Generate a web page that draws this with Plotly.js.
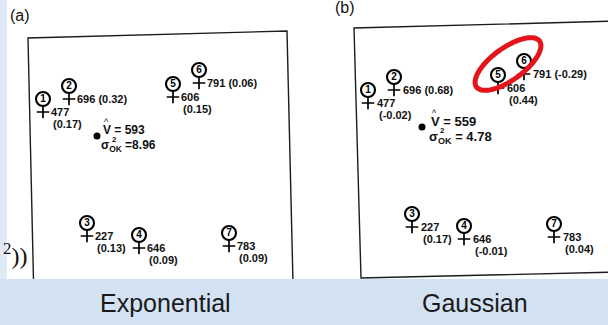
<!DOCTYPE html>
<html>
<head>
<meta charset="utf-8">
<script src="https://cdn.plot.ly/plotly-3.0.1.min.js"></script>
<style>
html,body{margin:0;padding:0;background:#fff;}
#chart{width:608px;height:325px;}
</style>
</head>
<body>
<div id="chart"></div>
<script>
// ---------------- DATA ----------------
const stationIds = [1, 2, 3, 4, 5, 6, 7];
const stationX = [13, 39, 57, 109, 143, 169, 199];
const stationY = [178, 191, 54, 42, 193, 207, 44];
const sampleValues = [477, 696, 227, 646, 606, 791, 783];
const weightsExponential = [0.17, 0.32, 0.13, 0.09, 0.15, 0.06, 0.09];
const weightsGaussian = [-0.02, 0.68, 0.17, -0.01, 0.44, -0.29, 0.04];
const estimateX = [67];
const estimateY = [154];
const modelNames = ["Exponential", "Gaussian"];
const panelLetters = ["(a)", "(b)"];
const estimatedValues = [593, 559];
const krigingVariances = ["8.96", "4.78"];

// ---------------- HELPERS ----------------
const W = 608, H = 325;
const PX = x => x / W;
const PY = y => 1 - y / H;
const FONT = "Liberation Sans, Arial, Helvetica, sans-serif";
const INK = "#111111";
const inlineWeight = new Set([2, 6]);

const panels = [
  {xa: "x", ya: "y", weights: weightsExponential, valDx: 6, estDx: 6, estSize: 12, eqSep: "="},
  {xa: "x2", ya: "y2", weights: weightsGaussian, valDx: 7, estDx: 9, estSize: 13, eqSep: "= "}
];

const traces = [];
const annotations = [];

panels.forEach((p, k) => {
  // sample locations
  traces.push({
    type: "scatter", mode: "markers", xaxis: p.xa, yaxis: p.ya,
    x: stationX, y: stationY, hoverinfo: "skip",
    marker: {symbol: "cross-thin-open", size: 9, color: "#000", line: {width: 1.7, color: "#000"}}
  });
  // circled station numbers
  traces.push({
    type: "scatter", mode: "markers+text", xaxis: p.xa, yaxis: p.ya,
    x: stationX, y: stationY.map(v => v + 13), hoverinfo: "skip",
    text: stationIds.map(String), textposition: "middle center",
    textfont: {family: FONT, size: 10, color: "#000", weight: "bold"},
    marker: {symbol: "circle-open", size: 14, color: "#000", line: {width: 2.1, color: "#000"}}
  });
  // estimation point
  traces.push({
    type: "scatter", mode: "markers", xaxis: p.xa, yaxis: p.ya,
    x: estimateX, y: estimateY, hoverinfo: "skip",
    marker: {symbol: "circle", size: 7, color: "#000"}
  });

  // value / weight labels
  stationIds.forEach((id, i) => {
    const w = "(" + p.weights[i].toFixed(2) + ")";
    const base = {xref: p.xa, yref: p.ya, x: stationX[i], y: stationY[i],
      xanchor: "left", yanchor: "middle", showarrow: false,
      font: {family: FONT, size: 11, color: INK, weight: "bold"}};
    if (inlineWeight.has(id)) {
      annotations.push(Object.assign({}, base, {text: sampleValues[i] + " " + w, xshift: p.valDx, yshift: 0}));
    } else {
      annotations.push(Object.assign({}, base, {text: String(sampleValues[i]), xshift: p.valDx, yshift: 0}));
      annotations.push(Object.assign({}, base, {text: w, xshift: p.valDx + 2, yshift: -12}));
    }
  });

  // estimate text
  const eb = {xref: p.xa, yref: p.ya, x: estimateX[0], y: estimateY[0], showarrow: false,
    xanchor: "left", yanchor: "middle"};
  annotations.push(Object.assign({}, eb, {text: "V " + p.eqSep.trim() + " " + estimatedValues[k],
    xshift: p.estDx - 2, yshift: 6, font: {family: FONT, size: p.estSize, color: INK, weight: "bold"}}));
  annotations.push(Object.assign({}, eb, {text: "^", xanchor: "center",
    xshift: p.estDx + 3, yshift: 14, font: {family: FONT, size: 9, color: INK}}));
  annotations.push(Object.assign({}, eb, {text: "σ<sub>OK</sub> " + p.eqSep + krigingVariances[k],
    xshift: p.estDx - 4, yshift: -10, font: {family: FONT, size: p.estSize, color: INK, weight: "bold"}}));
  annotations.push(Object.assign({}, eb, {text: "2", xanchor: "center",
    xshift: p.estDx + 11, yshift: -3, font: {family: FONT, size: 8, color: INK, weight: "bold"}}));
});

// panel letters and model names (slide decoration)
annotations.push({xref: "paper", yref: "paper", x: PX(8), y: PY(16), xanchor: "left", yanchor: "middle",
  showarrow: false, text: panelLetters[0], font: {family: FONT, size: 16, color: INK}});
annotations.push({xref: "paper", yref: "paper", x: PX(333), y: PY(8), xanchor: "left", yanchor: "middle",
  showarrow: false, text: panelLetters[1], font: {family: FONT, size: 16, color: INK}});
annotations.push({xref: "paper", yref: "paper", x: PX(165), y: PY(303), xanchor: "center", yanchor: "middle",
  showarrow: false, text: modelNames[0], font: {family: FONT, size: 25, color: "#1a1a1a"}});
annotations.push({xref: "paper", yref: "paper", x: PX(475), y: PY(303), xanchor: "center", yanchor: "middle",
  showarrow: false, text: modelNames[1], font: {family: FONT, size: 25, color: "#1a1a1a"}});
annotations.push({xref: "paper", yref: "paper", x: PX(29), y: PY(254), xanchor: "right", yanchor: "middle",
  showarrow: false, text: "<sup>2</sup>))", font: {family: "Liberation Serif, Times New Roman, serif", size: 24, color: "#111"}});

// ---------------- SHAPES ----------------
function poly(pts, close) {
  return pts.map((q, j) => (j ? "L" : "M") + PX(q[0]).toFixed(5) + "," + PY(q[1]).toFixed(5)).join(" ") + (close ? " Z" : "");
}
const ell = [];
{
  const cx = 508, cy = 64, a = 39, b = 16, th = 36 * Math.PI / 180;
  for (let j = 0; j < 90; j++) {
    const t = 2 * Math.PI * j / 90;
    ell.push([cx + a * Math.cos(t) * Math.cos(th) + b * Math.sin(t) * Math.sin(th),
              cy - a * Math.cos(t) * Math.sin(th) + b * Math.sin(t) * Math.cos(th)]);
  }
}
const frameLine = {color: "#1c1c1c", width: 1.4};
const shapes = [
  {type: "path", xref: "paper", yref: "paper", layer: "above", line: frameLine,
   path: poly([[34.5, 325], [28, 38], [287, 31], [294, 325]], false)},
  {type: "path", xref: "paper", yref: "paper", layer: "above", line: frameLine,
   path: poly([[620, 21], [354, 28], [361, 278], [620, 272]], false)},
  {type: "path", xref: "paper", yref: "paper", layer: "above", line: {color: "#e3151b", width: 5},
   path: poly(ell, true)},
  {type: "rect", xref: "paper", yref: "paper", layer: "above", line: {width: 0},
   x0: 0, x1: PX(7), y0: 0, y1: 1, fillcolor: "#dfeaf6"},
  {type: "rect", xref: "paper", yref: "paper", layer: "above", line: {width: 0},
   x0: 0, x1: 1, y0: 0, y1: PY(279), fillcolor: "#d3e2f2"}
];

const ax = {visible: false, fixedrange: true, showgrid: false, zeroline: false};
const layout = {
  width: W, height: H, autosize: false,
  margin: {l: 0, r: 0, t: 0, b: 0, pad: 0},
  paper_bgcolor: "#ffffff", plot_bgcolor: "rgba(0,0,0,0)",
  showlegend: false,
  xaxis: Object.assign({}, ax, {domain: [0, 283 / W], range: [-30, 253], anchor: "y"}),
  yaxis: Object.assign({}, ax, {domain: [0, 316 / H], range: [-35, 281], anchor: "x"}),
  xaxis2: Object.assign({}, ax, {domain: [325 / W, 1], range: [-30, 253], anchor: "y2"}),
  yaxis2: Object.assign({}, ax, {domain: [9 / H, 1], range: [-35, 281], anchor: "x2"}),
  shapes: shapes,
  annotations: annotations
};

Plotly.newPlot("chart", traces, layout, {staticPlot: true, displayModeBar: false});
</script>
</body>
</html>
